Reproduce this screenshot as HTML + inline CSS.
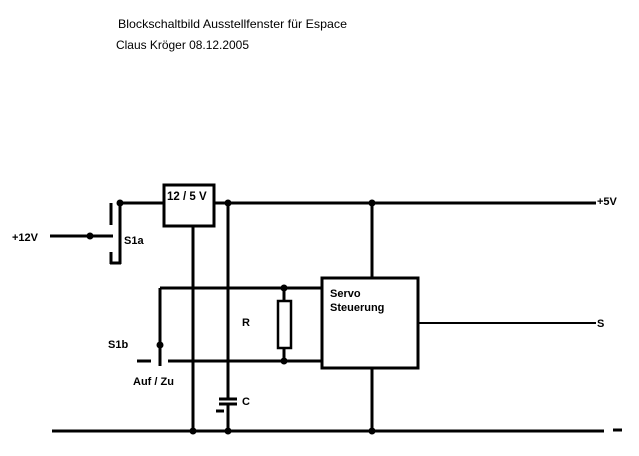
<!DOCTYPE html>
<html><head><meta charset="utf-8"><style>
html,body{margin:0;padding:0;background:#fff;}
svg{display:block;}
text{font-family:"Liberation Sans",sans-serif;fill:#000;}
</style></head><body>
<svg width="639" height="456" viewBox="0 0 639 456" xmlns="http://www.w3.org/2000/svg">
<rect width="639" height="456" fill="#fff"/>
<text x="118" y="28" font-size="12" textLength="229" lengthAdjust="spacingAndGlyphs">Blockschaltbild Ausstellfenster für Espace</text>
<text x="116" y="49" font-size="12" textLength="133" lengthAdjust="spacingAndGlyphs">Claus Kröger 08.12.2005</text>
<g stroke="#000" stroke-width="3" fill="none">
<!-- top rail -->
<line x1="120" y1="203" x2="163" y2="203"/>
<line x1="214" y1="203" x2="596" y2="203"/>
<!-- S1a -->
<line x1="120" y1="203" x2="120" y2="264"/>
<line x1="111" y1="203" x2="111" y2="225"/>
<line x1="111" y1="252" x2="111" y2="264"/>
<line x1="110" y1="263" x2="121" y2="263"/>
<line x1="50" y1="236" x2="113" y2="236"/>
<!-- regulator -->
<rect x="164" y="185" width="50" height="41" fill="#fff"/>
<line x1="193" y1="226" x2="193" y2="431"/>
<!-- cap line -->
<line x1="228" y1="203" x2="228" y2="399"/>
<line x1="228" y1="404" x2="228" y2="431"/>
<line x1="219" y1="399" x2="237" y2="399"/>
<line x1="219" y1="404" x2="237" y2="404"/>
<line x1="216" y1="411" x2="224" y2="411"/>
<!-- bottom rail -->
<line x1="52" y1="431" x2="604" y2="431"/>
<line x1="613" y1="430" x2="622" y2="430"/>
<!-- S1b lines -->
<line x1="160" y1="288" x2="322" y2="288"/>
<line x1="160" y1="288" x2="160" y2="366"/>
<line x1="168" y1="361" x2="322" y2="361"/>
<line x1="137" y1="361" x2="151" y2="361"/>
<!-- resistor -->
<line x1="284" y1="288" x2="284" y2="301"/>
<line x1="284" y1="348" x2="284" y2="361"/>
<rect x="278" y="301" width="13" height="47" stroke-width="2.5" fill="#fff"/>
<!-- servo -->
<line x1="372" y1="203" x2="372" y2="278"/>
<line x1="372" y1="368" x2="372" y2="431"/>
<rect x="322" y="278" width="96" height="90" fill="#fff"/>
</g>
<line x1="418" y1="323" x2="596" y2="323" stroke="#000" stroke-width="2"/>
<g fill="#000">
<circle cx="120" cy="203" r="3.5"/>
<circle cx="90" cy="236" r="3.5"/>
<circle cx="228" cy="203" r="3.5"/>
<circle cx="372" cy="203" r="3.5"/>
<circle cx="193" cy="431" r="3.5"/>
<circle cx="228" cy="431" r="3.5"/>
<circle cx="372" cy="431" r="3.5"/>
<circle cx="160" cy="345" r="3.5"/>
<circle cx="284" cy="288" r="3.5"/>
<circle cx="284" cy="361" r="3.5"/>
</g>
<text x="167" y="200" font-size="11.5" font-weight="bold">12 / 5 V</text>
<text x="12" y="241" font-size="11" font-weight="bold">+12V</text>
<text x="124" y="244" font-size="11" font-weight="bold">S1a</text>
<text x="242" y="326" font-size="11" font-weight="bold">R</text>
<text x="108" y="348" font-size="11" font-weight="bold">S1b</text>
<text x="133" y="385" font-size="11" font-weight="bold">Auf / Zu</text>
<text x="242" y="405" font-size="11" font-weight="bold">C</text>
<text x="330" y="297" font-size="11" font-weight="bold">Servo</text>
<text x="330" y="311" font-size="11" font-weight="bold">Steuerung</text>
<text x="597" y="205" font-size="11" font-weight="bold">+5V</text>
<text x="597" y="327" font-size="11" font-weight="bold">S</text>
</svg>
</body></html>
